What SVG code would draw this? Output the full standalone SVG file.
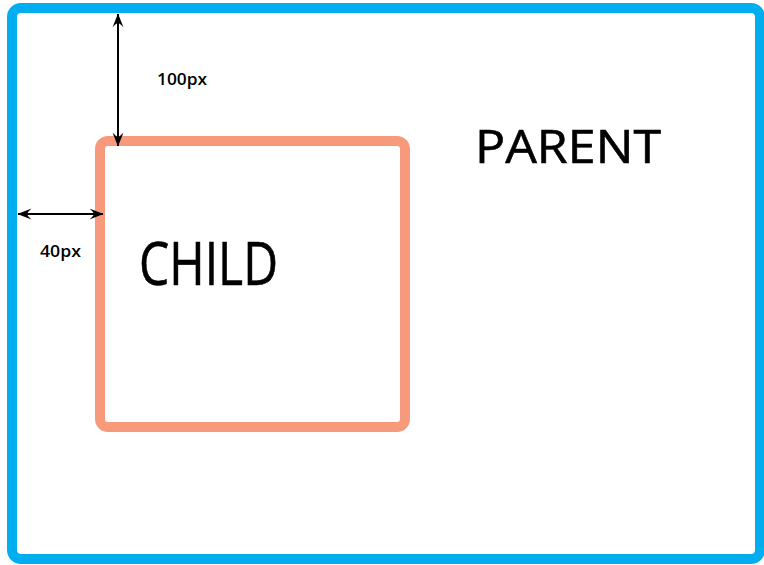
<svg xmlns="http://www.w3.org/2000/svg" width="764" height="565" viewBox="0 0 764 565">
<style>
.lbl{font-family:"Open Sans","Liberation Sans",sans-serif;fill:#000;}
.big{font-weight:500;stroke:#000;stroke-width:0.6;}
.small{font-size:16px;font-weight:600;}
.dim{stroke:#000;stroke-width:2;fill:none;}
</style>
<defs>
<marker id="ah" markerUnits="userSpaceOnUse" viewBox="0 -6 14 12" refX="13.5" refY="0" markerWidth="14" markerHeight="12" orient="auto-start-reverse">
<path d="M14,0 L0,-5.5 Q5,-1 4,0 Q5,1 0,5.5 Z" fill="#000"/>
</marker>
</defs>
<rect width="764" height="565" fill="#fff"/>
<g id="parent">
<rect x="12" y="8" width="748" height="551" rx="9" fill="none" stroke="#00AEEF" stroke-width="10"/>
<text class="lbl big" x="475" y="163" font-size="46" textLength="186" lengthAdjust="spacingAndGlyphs">PARENT</text>
</g>
<g id="child">
<rect x="100" y="141" width="305" height="286" rx="8" fill="none" stroke="#F79A7B" stroke-width="10"/>
<text class="lbl big" x="139" y="285" font-size="60" textLength="139" lengthAdjust="spacingAndGlyphs">CHILD</text>
</g>
<g id="connectors">
<line class="dim" x1="118" y1="14" x2="118" y2="146" marker-start="url(#ah)" marker-end="url(#ah)"/>
<line class="dim" x1="18" y1="214" x2="103" y2="214" marker-start="url(#ah)" marker-end="url(#ah)"/>
<text class="lbl small" x="157" y="85" textLength="50" lengthAdjust="spacingAndGlyphs">100px</text>
<text class="lbl small" x="40" y="257" textLength="41" lengthAdjust="spacingAndGlyphs">40px</text>
</g>
</svg>
